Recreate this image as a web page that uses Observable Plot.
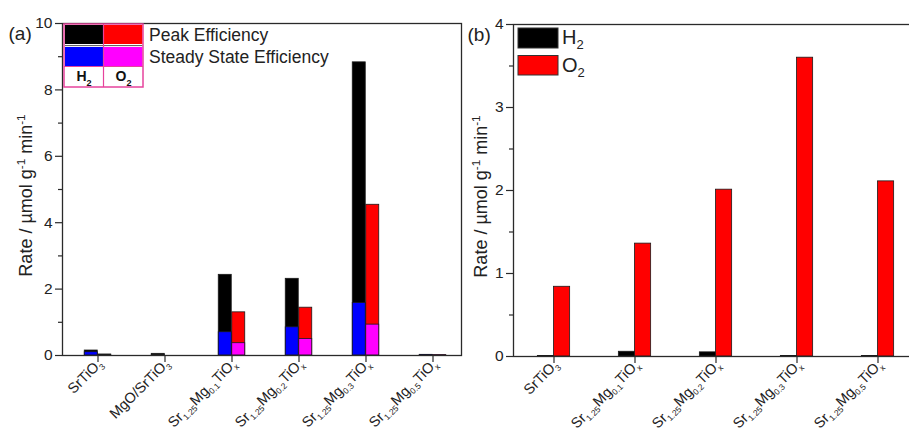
<!DOCTYPE html>
<html>
<head>
<meta charset="utf-8">
<script src="https://cdn.jsdelivr.net/npm/d3@7"></script>
<script src="https://cdn.jsdelivr.net/npm/@observablehq/plot@0.6"></script>
<style>
  html, body { margin: 0; padding: 0; background: #fff; overflow: hidden; }
  #wrap { position: relative; width: 909px; height: 432px; overflow: hidden; background: #fff;
          font-family: "Liberation Sans", Arial, sans-serif; }
  .panel { position: absolute; top: 0; height: 432px; }
  .panel svg { max-width: none !important; }
  #overlay { position: absolute; left: 0; top: 0; pointer-events: none; }
</style>
</head>
<body>
<div id="wrap">
  <div id="pa" class="panel" style="left:0px;width:470px"></div>
  <div id="pb" class="panel" style="left:465px;width:460px"></div>
  <svg id="overlay" width="909" height="432"></svg>
</div>
<script>
// ---------- data: panel (a) ----------
const catsA = ["SrTiO_{3}", "MgO/SrTiO_{3}", "Sr_{1.25}Mg_{0.1}TiO_{x}", "Sr_{1.25}Mg_{0.2}TiO_{x}", "Sr_{1.25}Mg_{0.3}TiO_{x}", "Sr_{1.25}Mg_{0.5}TiO_{x}"];
const h2PeakA   = [0.15, 0.05, 2.43, 2.31, 8.83, 0.02];
const h2SteadyA = [0.10, 0.02, 0.70, 0.85, 1.58, 0.01];
const o2PeakA   = [0.03, 0.00, 1.30, 1.44, 4.54, 0.01];
const o2SteadyA = [0.02, 0.00, 0.37, 0.50, 0.93, 0.005];
const ticksA = [0, 2, 4, 6, 8, 10];
const minorA = [1, 3, 5, 7, 9];

// ---------- data: panel (b) ----------
const catsB = ["SrTiO_{3}", "Sr_{1.25}Mg_{0.1}TiO_{x}", "Sr_{1.25}Mg_{0.2}TiO_{x}", "Sr_{1.25}Mg_{0.3}TiO_{x}", "Sr_{1.25}Mg_{0.5}TiO_{x}"];
const h2B = [0.005, 0.057, 0.05, 0.005, 0.005];
const o2B = [0.84, 1.36, 2.01, 3.60, 2.11];
const ticksB = [0, 1, 2, 3, 4];
const minorB = [0.5, 1.5, 2.5, 3.5];

const yTitle = "Rate / µmol g^{-1} min^{-1}";
const FONT = '"Liberation Sans", Arial, sans-serif';
const AX = "#2a2a2a";

function rows(cats, vals) { return cats.map((c, i) => ({cat: c, v: vals[i]})); }

// Convert "_{..}" / "^{..}" markup inside text nodes into tspans
function richify(root, subShift, supShift, scale) {
  d3.select(root).selectAll("text").each(function () {
    const t = this.textContent;
    if (!/[_^]\{/.test(t)) return;
    const el = d3.select(this);
    el.text(null);
    const re = /([_^])\{([^}]*)\}|([^_^]+)/g;
    let m, shifted = 0;
    while ((m = re.exec(t)) !== null) {
      if (m[3] !== undefined) {
        const ts = el.append("tspan").text(m[3]);
        if (shifted) ts.attr("dy", -shifted);
        shifted = 0;
      } else {
        const s = m[1] === "_" ? subShift : -supShift;
        const ts = el.append("tspan").attr("font-size", scale).text(m[2]);
        ts.attr("dy", s - shifted);
        shifted = s;
      }
    }
  });
}

function panel({cats, series, yDomain, ticks, minor, width, mL, mR, mT, mB, xRange, bw, tag, tagDx, titleDx}) {
  const band = (xRange[1] - xRange[0]) / cats.length;
  const half = band / 2;
  const marks = [];
  for (const s of series) {
    const insL = s.side === "L" ? half - bw : half;
    const insR = s.side === "L" ? half : half - bw;
    marks.push(Plot.barY(rows(cats, s.vals), {
      x: "cat", y: "v", fill: s.color, stroke: "#1a1a1a", strokeWidth: 0.8,
      insetLeft: insL, insetRight: insR
    }));
  }
  marks.push(
    Plot.frame({stroke: AX, strokeWidth: 1.3}),
    Plot.axisY({ticks, tickSize: 7, tickPadding: 3, fontSize: 15.5, stroke: AX, strokeWidth: 1.2, fill: "#222", label: null, tickFormat: d => String(d)}),
    Plot.axisY({ticks: minor, tickSize: 4, stroke: AX, strokeWidth: 1.2, label: null, tickFormat: () => ""}),
    Plot.axisX({tickSize: 7, stroke: AX, strokeWidth: 1.2, label: null, tickFormat: () => ""}),
    Plot.text(cats, {x: d => d, text: d => d, frameAnchor: "bottom", rotate: -45, textAnchor: "end",
      lineAnchor: "top", dx: -2, dy: 2, fontSize: 14.5, fill: "#222", className: "xlab"}),
    Plot.text([yTitle], {text: d => d, frameAnchor: "left", rotate: -90, textAnchor: "middle",
      dx: titleDx, dy: 6, fontSize: 18, fill: "#222", className: "ytitle"}),
    Plot.text([tag], {text: d => d, frameAnchor: "top-left", textAnchor: "start", dx: tagDx, dy: 3,
      fontSize: 19, fill: "#222"})
  );
  const chart = Plot.plot({
    width, height: 432,
    marginLeft: mL, marginRight: mR, marginTop: mT, marginBottom: mB,
    style: {fontFamily: FONT, background: "transparent", overflow: "visible", maxWidth: "none"},
    x: {type: "band", domain: cats, range: xRange, padding: 0, axis: null},
    y: {domain: yDomain, axis: null},
    marks
  });
  richify(chart.querySelector(".xlab") || chart, 3.5, 7, "58%");
  richify(chart, 4, 7, "65%");
  return chart;
}

document.getElementById("pa").appendChild(panel({
  cats: catsA,
  series: [
    {vals: h2PeakA, color: "#000000", side: "L"},
    {vals: o2PeakA, color: "#ff0000", side: "R"},
    {vals: h2SteadyA, color: "#0000ff", side: "L"},
    {vals: o2SteadyA, color: "#ff00ff", side: "R"}
  ],
  yDomain: [0, 10], ticks: ticksA, minor: minorA,
  width: 470, mL: 62, mR: 9, mT: 23, mB: 77, xRange: [62, 467.1], bw: 13.5,
  tag: "(a)", tagDx: -54, titleDx: -36
}));

document.getElementById("pb").appendChild(panel({
  cats: catsB,
  series: [
    {vals: h2B, color: "#000000", side: "L"},
    {vals: o2B, color: "#ff0000", side: "R"}
  ],
  yDomain: [0, 4], ticks: ticksB, minor: minorB,
  width: 460, mL: 48, mR: 6.5, mT: 24, mB: 76, xRange: [48, 453.5], bw: 16.2,
  tag: "(b)", tagDx: -46, titleDx: -32
}));

// ---------- legends (overlay) ----------
const ov = d3.select("#overlay").attr("font-family", FONT);
const PINK = "#e6439c";
// legend (a)
const la = ov.append("g");
la.append("rect").attr("x", 64).attr("y", 24).attr("width", 79).attr("height", 63).attr("fill", "#fff");
la.append("rect").attr("x", 65).attr("y", 25).attr("width", 38).attr("height", 19).attr("fill", "#000");
la.append("rect").attr("x", 104).attr("y", 25).attr("width", 38.5).attr("height", 19).attr("fill", "#ff0000");
la.append("line").attr("x1", 65).attr("x2", 142.5).attr("y1", 45.6).attr("y2", 45.6).attr("stroke", "#555").attr("stroke-width", 1);
la.append("rect").attr("x", 65).attr("y", 47).attr("width", 38).attr("height", 19).attr("fill", "#0000ff");
la.append("rect").attr("x", 104).attr("y", 47).attr("width", 38.5).attr("height", 19).attr("fill", "#ff00ff");
la.append("line").attr("x1", 64).attr("x2", 143).attr("y1", 66.5).attr("y2", 66.5).attr("stroke", PINK).attr("stroke-width", 1.2);
la.append("line").attr("x1", 103.5).attr("x2", 103.5).attr("y1", 24).attr("y2", 87).attr("stroke", PINK).attr("stroke-width", 1.2);
la.append("rect").attr("x", 64).attr("y", 24).attr("width", 79).attr("height", 63).attr("fill", "none").attr("stroke", PINK).attr("stroke-width", 1.5);
la.append("text").attr("x", 84).attr("y", 81).attr("text-anchor", "middle").attr("font-size", 14).attr("font-weight", "bold").attr("fill", "#111").text("H_{2}");
la.append("text").attr("x", 123.5).attr("y", 81).attr("text-anchor", "middle").attr("font-size", 14).attr("font-weight", "bold").attr("fill", "#111").text("O_{2}");
la.append("text").attr("x", 149).attr("y", 40.5).attr("font-size", 17.5).attr("fill", "#222").text("Peak Efficiency");
la.append("text").attr("x", 149).attr("y", 63).attr("font-size", 17.5).attr("fill", "#222").text("Steady State Efficiency");
// legend (b)
const lb = ov.append("g");
lb.append("rect").attr("x", 518).attr("y", 28).attr("width", 40).attr("height", 20).attr("fill", "#000").attr("stroke", "#333").attr("stroke-width", 1);
lb.append("rect").attr("x", 518).attr("y", 55.5).attr("width", 40).attr("height", 19.5).attr("fill", "#ff0000").attr("stroke", "#333").attr("stroke-width", 1);
lb.append("text").attr("x", 562).attr("y", 44).attr("font-size", 20).attr("fill", "#222").text("H_{2}");
lb.append("text").attr("x", 562).attr("y", 71.5).attr("font-size", 20).attr("fill", "#222").text("O_{2}");
richify(document.getElementById("overlay"), 5, 7, "65%");
</script>
</body>
</html>
